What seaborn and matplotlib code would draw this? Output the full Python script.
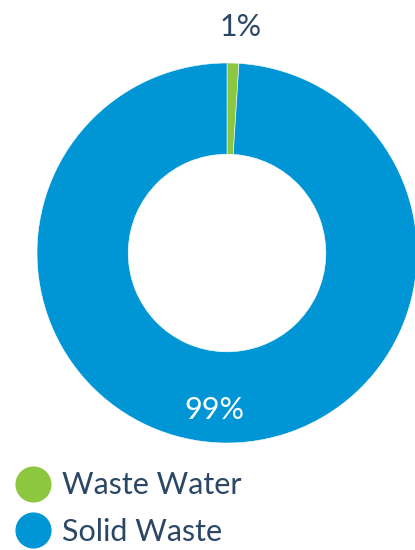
import matplotlib
matplotlib.use("Agg")
import matplotlib.pyplot as plt
import seaborn as sns
from matplotlib.lines import Line2D

categories = ["Waste Water", "Solid Waste"]
values = [1, 99]
labels = ["1%", "99%"]
colors = ["#8DC63F", "#0096D6"]
text_color = "#2C4766"

sns.set_theme(style="white")
plt.rcParams['font.family'] = ['Lato', 'DejaVu Sans']

fig = plt.figure(figsize=(4.15, 5.5), dpi=100)
ax = fig.add_axes([0.0892, 0.1945, 0.9157, 0.691])
ax.pie(values, colors=colors, startangle=90, counterclock=False, radius=1.0,
       wedgeprops=dict(width=0.48, edgecolor="white", linewidth=0.4))
ax.set_xlim(-1, 1)
ax.set_ylim(-1, 1)
ax.set_aspect("equal")
ax.axis("off")

ax.text(0.074, 1.19, labels[0], ha="center", va="center", fontsize=22,
        color=text_color, fontweight="normal")
ax.text(-0.068, -0.826, labels[1], ha="center", va="center", fontsize=22,
        color="white", fontweight="normal")

handles = [Line2D([0], [0], marker="o", linestyle="", markersize=25,
                  markerfacecolor=c, markeredgecolor=c) for c in colors]
leg = fig.legend(handles, categories, loc="upper left",
                 bbox_to_anchor=(-0.005, 0.165), frameon=False,
                 fontsize=22, labelspacing=0.6, handletextpad=0.2,
                 handlelength=1.5, borderaxespad=0)
for t in leg.get_texts():
    t.set_color(text_color)
    t.set_fontweight("normal")

fig.savefig("out.png", dpi=100)
